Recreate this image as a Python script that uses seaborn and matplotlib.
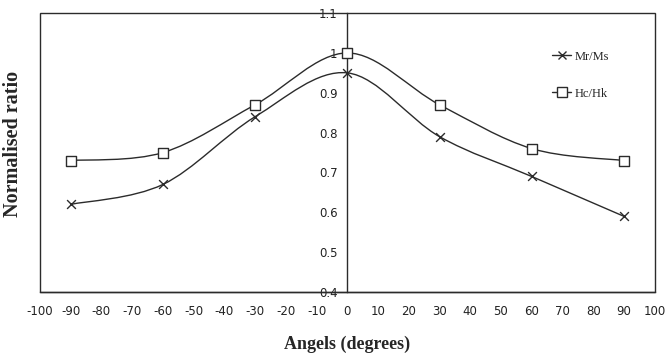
import numpy as np
import pandas as pd
import matplotlib
matplotlib.use('Agg')
import matplotlib.pyplot as plt
import seaborn as sns
from matplotlib.path import Path
from matplotlib.patches import PathPatch, Rectangle
from matplotlib.lines import Line2D
from matplotlib.ticker import FuncFormatter

# values
angles = [-90, -60, -30, 0, 30, 60, 90]
mr_ms = [0.62, 0.67, 0.84, 0.95, 0.79, 0.69, 0.59]
hc_hk = [0.73, 0.75, 0.87, 1.00, 0.87, 0.76, 0.73]
series_names = ['Mr/Ms', 'Hc/Hk']
x_ticks = list(range(-100, 101, 10))
y_ticks = [0.4, 0.5, 0.6, 0.7, 0.8, 0.9, 1.0, 1.1]

INK = '#2b2b2b'


# smoothed line like the spreadsheet one: catmull-rom segments as bezier curves
def smooth_path(xs, ys):
    pts = np.column_stack([xs, ys]).astype(float)
    verts = [pts[0]]
    codes = [Path.MOVETO]
    n = len(pts)
    for i in range(n - 1):
        p0 = pts[max(i - 1, 0)]
        p1 = pts[i]
        p2 = pts[i + 1]
        p3 = pts[min(i + 2, n - 1)]
        c1 = p1 + (p2 - p0) / 6.0
        c2 = p2 - (p3 - p1) / 6.0
        verts += [c1, c2, p2]
        codes += [Path.CURVE4] * 3
    return Path(verts, codes)


def main():
    sns.set_style('white')
    plt.rcParams['axes.unicode_minus'] = False
    df = pd.DataFrame({
        'angle': angles * 2,
        'ratio': mr_ms + hc_hk,
        'series': [series_names[0]] * len(angles) + [series_names[1]] * len(angles),
    })

    fig = plt.figure(figsize=(6.66, 3.54), dpi=100)
    ax = fig.add_axes([0.06, 0.175, 0.923, 0.788])

    for name in series_names:
        sub = df[df.series == name]
        ax.add_patch(PathPatch(smooth_path(sub.angle, sub.ratio), fill=False,
                               edgecolor=INK, lw=1.0, zorder=2))

    mr = df[df.series == 'Mr/Ms']
    hc = df[df.series == 'Hc/Hk']
    sns.scatterplot(data=mr, x='angle', y='ratio', marker='x', s=40,
                    color=INK, linewidth=1.0, ax=ax, zorder=3, legend=False)
    sns.scatterplot(data=hc, x='angle', y='ratio', marker='s', s=50,
                    facecolor='white', edgecolor=INK, linewidth=1.0, ax=ax,
                    zorder=4, legend=False)

    ax.set_xlim(-100, 100)
    ax.set_ylim(0.4, 1.1)
    ax.set_xticks(x_ticks)
    ax.set_yticks(y_ticks)
    ax.yaxis.set_major_formatter(FuncFormatter(lambda v, p: '%g' % round(v, 2)))

    for s in ['top', 'right']:
        ax.spines[s].set_visible(False)
    ax.spines['left'].set_position(('data', 0))
    ax.spines['left'].set_color(INK)
    ax.spines['bottom'].set_color(INK)
    ax.spines['left'].set_linewidth(1.0)
    ax.spines['bottom'].set_linewidth(1.0)
    ax.add_patch(Rectangle((0, 0), 1, 1, transform=ax.transAxes, fill=False,
                           edgecolor=INK, lw=1.0, zorder=5, clip_on=False))

    ax.tick_params(axis='y', direction='inout', length=6, width=1, color=INK,
                   labelsize=8.5, labelcolor='#222222', pad=4)
    ax.tick_params(axis='x', direction='out', length=4, width=1, color=INK,
                   labelsize=8.5, labelcolor='#222222', pad=5)
    for lab in ax.get_xticklabels() + ax.get_yticklabels():
        lab.set_family('DejaVu Sans')

    ax.set_xlabel('Angels (degrees)', family='Liberation Serif',
                  fontweight='bold', fontsize=13)
    ax.set_ylabel('Normalised ratio', family='Liberation Serif',
                  fontweight='bold', fontsize=14.5)
    ax.xaxis.set_label_coords(0.5, -0.155)
    ax.yaxis.set_label_coords(-0.027, 0.53)

    handles = [
        Line2D([], [], color=INK, lw=1.0, marker='x', markersize=6,
               markerfacecolor='white'),
        Line2D([], [], color=INK, lw=1.0, marker='s', markersize=7,
               markerfacecolor='white'),
    ]
    ax.legend(handles, series_names, loc='upper left',
              bbox_to_anchor=(0.815, 0.905), frameon=False, handlelength=1.5,
              handletextpad=0.3, labelspacing=2.0,
              prop={'family': 'Liberation Serif', 'size': 9})

    fig.savefig('out.png', dpi=100, facecolor='white')


if __name__ == '__main__':
    main()
